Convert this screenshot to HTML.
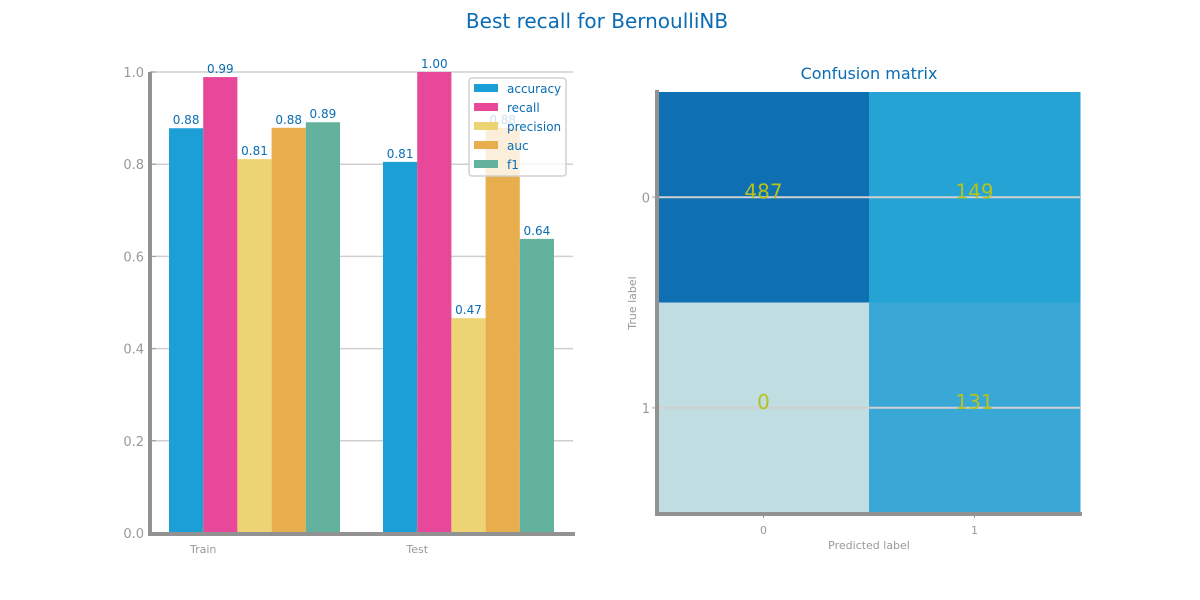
<!DOCTYPE html>
<html><head><meta charset="utf-8"><style>
body{margin:0;background:#fff;}
svg{display:block;font-family:"DejaVu Sans","Liberation Sans",sans-serif;}
</style></head><body>
<svg id="c" width="1200" height="600" viewBox="0 0 1200 600">
<text x="597" y="28" text-anchor="middle" font-size="20" fill="#0a6cb4">Best recall for BernoulliNB</text>
<g id="bars"></g>
<g id="cm"></g>
</svg>
<script>
const groups=["Train","Test"];
const metrics=["accuracy","recall","precision","auc","f1"];
const colors=["#1b9fd6","#e8489a","#ecd474","#e8ae4d","#62b29d"];
const trainVals=[0.878,0.989,0.811,0.879,0.891];
const testVals=[0.805,1.0,0.466,0.879,0.638];
const yTicks=[0,0.2,0.4,0.6,0.8,1.0];
const cmVals=[[487,149],[0,131]];
const cmColors=[["#0e6fb2","#25a3d5"],["#c0dde1","#3aa8d7"]];
const cmTicks=["0","1"];

const NS="http://www.w3.org/2000/svg";
function mk(p,t,a,txt){const e=document.createElementNS(NS,t);for(const k in a)e.setAttribute(k,a[k]);if(txt!==undefined)e.textContent=txt;p.appendChild(e);return e;}
const B=document.getElementById('bars');
const x0=150,x1=573,yb=533,yt=72;
const Y=v=>yb-v*(yb-yt);
const gx=[169,383],bw=34.2;
yTicks.forEach(t=>{
  const l=mk(B,'line',{x1:x0,x2:x1,y1:Y(t),y2:Y(t),stroke:'#cfcfcf','stroke-width':1.5});
  
  
  mk(B,'line',{x1:x0,x2:x0+6,y1:Y(t),y2:Y(t),stroke:'#999','stroke-width':1});
  const tx=mk(B,'text',{x:x0-6,y:Y(t)+5,'text-anchor':'end','font-size':13,fill:'#999'},t.toFixed(1));
  
  
});
[trainVals,testVals].forEach((vals,g)=>{
  vals.forEach((v,i)=>{
    const x=gx[g]+i*bw;
    const r=mk(B,'rect',{x:x,y:Y(v),width:bw,height:yb-Y(v),fill:colors[i]});
    
    
    const t=mk(B,'text',{x:x+bw/2,y:Y(v)-4,'text-anchor':'middle','font-size':12,fill:'#0a6cb4'},v.toFixed(2));
    
    
  });
  const cx=gx[g]+bw;
  mk(B,'line',{x1:cx,x2:cx,y1:yb-5,y2:yb,stroke:'#999'});
  const tl=mk(B,'text',{x:cx,y:yb+20,'text-anchor':'middle','font-size':11,fill:'#999'},groups[g]);
  
  
});
mk(B,'line',{x1:x0,x2:x0,y1:yt,y2:yb+2,stroke:'#929292','stroke-width':4});
mk(B,'line',{x1:x0-2,x2:x1+2,y1:yb+1,y2:yb+1,stroke:'#929292','stroke-width':4});
const L=mk(B,'g',{});


mk(L,'rect',{x:469,y:78,width:97,height:98,rx:3,fill:'rgba(255,255,255,0.8)',stroke:'#d0d0d0','stroke-width':1.5});
metrics.forEach((m,i)=>{
  const yy=88+i*19;
  mk(L,'rect',{x:474,y:yy-4,width:24,height:8,fill:colors[i]});
  const t=mk(L,'text',{x:507,y:yy+5,'font-size':12,fill:'#0a6cb4'},m);
  
  
});
const C=document.getElementById('cm');
const cx0=658,cx1=1080,cy0=92,cy1=513;
const cw=(cx1-cx0)/2,ch=(cy1-cy0)/2;
mk(C,'text',{x:869,y:79,'text-anchor':'middle','font-size':16,fill:'#0a6cb4'},'Confusion matrix');
cmVals.forEach((row,r)=>row.forEach((v,c)=>{
  const re=mk(C,'rect',{x:cx0+c*cw,y:cy0+r*ch,width:cw+0.5,height:ch+0.5,fill:cmColors[r][c]});
  
  
}));
cmTicks.forEach((t,i)=>{
  const yy=cy0+ch*(i+0.5);
  mk(C,'line',{x1:cx0-6,x2:cx1,y1:yy,y2:yy,stroke:'#d0d0d0','stroke-width':2});
  const tl=mk(C,'text',{x:650,y:yy+5,'text-anchor':'end','font-size':13,fill:'#999'},t);
  
  
  const xx=cx0+cw*(i+0.5);
  mk(C,'line',{x1:xx,x2:xx,y1:cy1,y2:cy1+5,stroke:'#999'});
  const tx=mk(C,'text',{x:xx,y:cy1+21,'text-anchor':'middle','font-size':11,fill:'#999'},t);
  
  
});
cmVals.forEach((row,r)=>row.forEach((v,c)=>{
  const t=mk(C,'text',{x:cx0+cw*(c+0.5),y:cy0+ch*(r+0.5)+1,'text-anchor':'middle','font-size':20,fill:'#b5c21b'},String(v));
  
  
}));
mk(C,'line',{x1:cx0-1,x2:cx0-1,y1:cy0-2,y2:cy1+2,stroke:'#929292','stroke-width':4});
mk(C,'line',{x1:cx0-3,x2:cx1+2,y1:cy1+1,y2:cy1+1,stroke:'#929292','stroke-width':4});
mk(C,'text',{x:869,y:549,'text-anchor':'middle','font-size':11,fill:'#999'},'Predicted label');
mk(C,'text',{x:636,y:303,'text-anchor':'middle','font-size':11,fill:'#999',transform:'rotate(-90 636 303)'},'True label');
</script>
</body></html>
